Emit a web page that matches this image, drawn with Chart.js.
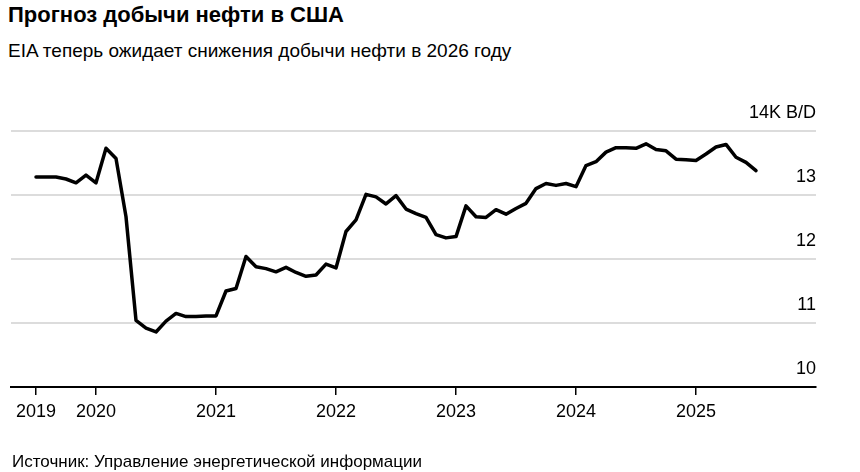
<!DOCTYPE html>
<html>
<head>
<meta charset="utf-8">
<script src="https://cdn.jsdelivr.net/npm/chart.js@4"></script>
<style>
  html, body { margin: 0; padding: 0; background: #fff; }
  body { width: 860px; height: 472px; position: relative; overflow: hidden; font-family: "Liberation Sans", Arial, sans-serif; color: #000; }
  .txt { position: absolute; left: 8px; line-height: 1; white-space: nowrap; }
  #title { top: 4px; font-size: 22px; font-weight: bold; }
  #subtitle { top: 41px; font-size: 19px; }
  #source { top: 453px; left: 12px; font-size: 17px; }
  #wrap { position: absolute; left: 0; top: 0; width: 860px; height: 472px; }
</style>
</head>
<body>
<div class="txt" id="title">Прогноз добычи нефти в США</div>
<div class="txt" id="subtitle">EIA теперь ожидает снижения добычи нефти в 2026 году</div>
<div id="wrap"><canvas id="oilChart"></canvas></div>
<div class="txt" id="source">Источник: Управление энергетической информации</div>
<script>
// monthly series, first value = July 2019
const firstMonth = "2019-07";
const production = [
  13.28, 13.28, 13.28, 13.25, 13.19, 13.31, 13.19, 13.73, 13.57, 12.66,
  11.04, 10.92, 10.86, 11.03, 11.15, 11.10, 11.10, 11.11, 11.11, 11.50,
  11.54, 12.04, 11.88, 11.85, 11.80, 11.87, 11.79, 11.73, 11.75, 11.92,
  11.86, 12.43, 12.61, 13.01, 12.97, 12.86, 12.99, 12.78, 12.71, 12.65,
  12.38, 12.33, 12.35, 12.83, 12.66, 12.65, 12.77, 12.70, 12.79, 12.87,
  13.10, 13.18, 13.15, 13.18, 13.13, 13.46, 13.52, 13.67, 13.74, 13.74,
  13.73, 13.80, 13.71, 13.69, 13.56, 13.55, 13.54, 13.64, 13.75, 13.79,
  13.59, 13.51, 13.38
];
const tickMonths = ["2019-07", "2020-01", "2021-01", "2022-01", "2023-01", "2024-01", "2025-01"];
const tickLabels = ["2019", "2020", "2021", "2022", "2023", "2024", "2025"];
const yTicks = [10, 11, 12, 13, 14];
const yUnit = "K B/D";

// months counted from Jan 2020
function monthIndex(ym) {
  const [y, m] = ym.split("-").map(Number);
  return (y - 2020) * 12 + (m - 1);
}
const start = monthIndex(firstMonth);
const points = production.map((v, i) => ({ x: start + i, y: v }));
const tickPos = tickMonths.map(monthIndex);

new Chart(document.getElementById("oilChart"), {
  type: "line",
  data: {
    datasets: [{
      data: points,
      borderColor: "#000",
      borderWidth: 3.5,
      pointRadius: 0,
      tension: 0,
      borderJoinStyle: "round",
      borderCapStyle: "round"
    }]
  },
  options: {
    responsive: true,
    maintainAspectRatio: false,
    animation: false,
    layout: { padding: { left: 11, right: 44, top: 131, bottom: 0 } },
    plugins: { legend: { display: false }, tooltip: { enabled: false } },
    scales: {
      x: {
        type: "linear",
        min: -8.5,
        max: 72,
        afterBuildTicks: (s) => { s.ticks = tickPos.map(v => ({ value: v })); },
        afterFit: (s) => { s.height = 85; },
        grid: { drawOnChartArea: false, drawTicks: true, tickLength: 8, color: "#000", lineWidth: 1.5 },
        border: { display: true, color: "#000", width: 2 },
        ticks: {
          autoSkip: false,
          maxRotation: 0,
          padding: 6,
          color: "#000",
          font: { family: "Liberation Sans", size: 18 },
          callback: (v) => tickLabels[tickPos.indexOf(v)]
        }
      },
      y: {
        position: "right",
        min: 10,
        max: 14,
        afterBuildTicks: (s) => { s.ticks = yTicks.map(v => ({ value: v })); },
        afterFit: (s) => { s.width = 0; },
        grid: { drawTicks: false, color: "#dcdcdc", lineWidth: 2 },
        border: { display: false },
        ticks: {
          mirror: true,
          padding: 0,
          labelOffset: -18,
          color: "#000",
          font: { family: "Liberation Sans", size: 18 },
          callback: (v) => v === 14 ? v + yUnit : String(v)
        }
      }
    }
  }
});
</script>
</body>
</html>
